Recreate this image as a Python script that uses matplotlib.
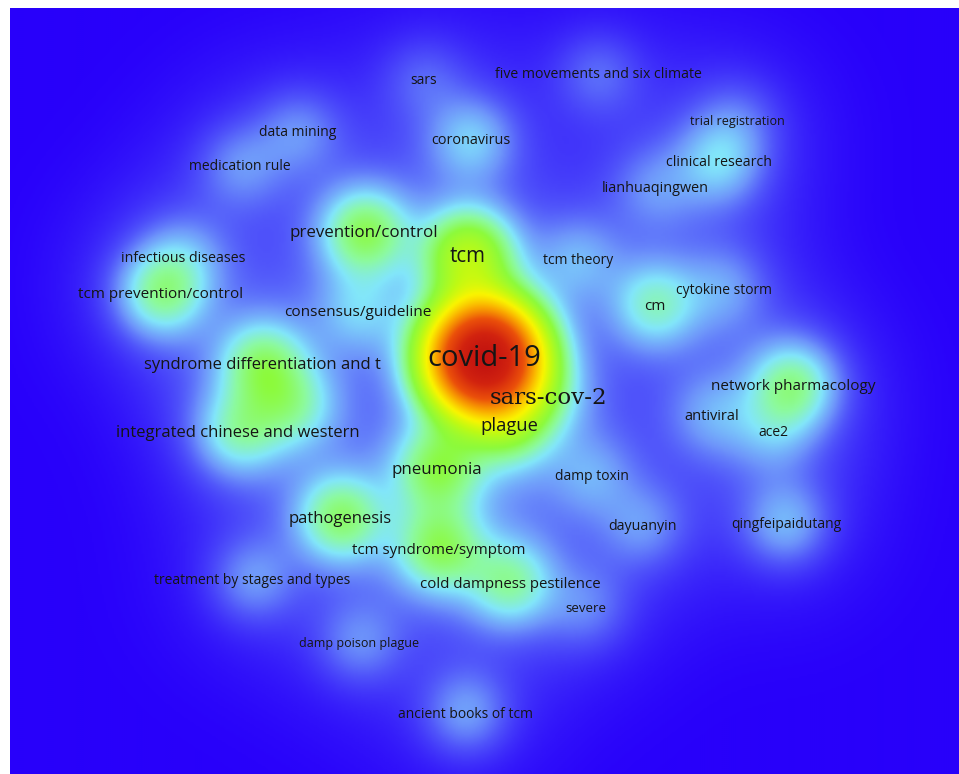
import numpy as np
import matplotlib
matplotlib.use("Agg")
import matplotlib.pyplot as plt
from matplotlib.colors import LinearSegmentedColormap

# keyword map (VOSviewer style density view), coordinates in map units
labels = ["sars", "five movements and six climate", "data mining", "coronavirus",
          "trial registration", "clinical research", "medication rule", "lianhuaqingwen",
          "prevention/control", "tcm", "tcm theory", "infectious diseases",
          "tcm prevention/control", "cytokine storm", "cm", "consensus/guideline",
          "covid-19", "syndrome differentiation and t", "sars-cov-2", "network pharmacology",
          "antiviral", "ace2", "plague", "integrated chinese and western",
          "pneumonia", "damp toxin", "pathogenesis", "dayuanyin",
          "qingfeipaidutang", "tcm syndrome/symptom", "treatment by stages and types",
          "cold dampness pestilence", "severe", "damp poison plague", "ancient books of tcm"]
xs = [424, 598, 298, 471, 737, 719, 240, 655, 364, 468, 578, 183, 161, 724, 655, 358,
      484, 262, 549, 793, 712, 773, 509, 238, 437, 592, 340, 643, 786, 439, 252, 510,
      586, 359, 466]
ys = [78, 73, 131, 139, 119, 161, 165, 187, 231, 254, 259, 256, 292, 288, 304, 310,
      357, 363, 396, 384, 414, 431, 424, 431, 468, 475, 517, 525, 523, 548, 579, 582,
      607, 642, 712]
weights = [0.02, 0.025, 0.03, 0.05, 0.02, 0.05, 0.03, 0.025, 0.11, 0.17, 0.035, 0.03,
           0.09, 0.03, 0.07, 0.04, 1.0, 0.09, 0.03, 0.09, 0.03, 0.03, 0.08, 0.07,
           0.10, 0.03, 0.10, 0.03, 0.045, 0.10, 0.035, 0.08, 0.025, 0.03, 0.04]
sizes = [10, 10.2, 10, 10.4, 9, 10.2, 10, 10.4, 12.2, 14.8, 10, 10.2, 11, 10, 11, 11.1,
         21, 12, 16.5, 11, 10.5, 10, 13.2, 12, 12.2, 10, 12, 10.3, 10, 10.9, 10, 10.8,
         9.5, 9, 10]

# items whose labels are hidden by overlap
hid_x = [293]
hid_y = [405]
hid_w = [0.06]

cmap = LinearSegmentedColormap.from_list("vos", [
    (0.000, (40/255, 0, 250/255)),
    (0.030, (80/255, 85/255, 250/255)),
    (0.050, (110/255, 150/255, 250/255)),
    (0.080, (130/255, 230/255, 250/255)),
    (0.110, (140/255, 250/255, 160/255)),
    (0.150, (140/255, 250/255, 60/255)),
    (0.220, (190/255, 250/255, 20/255)),
    (0.300, (250/255, 245/255, 0)),
    (0.420, (250/255, 170/255, 0)),
    (0.580, (235/255, 80/255, 10/255)),
    (0.800, (210/255, 35/255, 15/255)),
    (1.000, (195/255, 20/255, 15/255)),
], N=2048)

gx, gy = np.meshgrid(np.arange(10, 959, 2.0), np.arange(8, 774, 2.0))
dens = np.zeros_like(gx)
for x, y, w in zip(xs + hid_x, ys + hid_y, weights + hid_w):
    r2 = (gx - x) ** 2 + (gy - y) ** 2
    s = 29 + 7 * w
    dens += w * np.exp(-r2 / (2 * s ** 2))
    dens += 0.055 * np.sqrt(min(w, 0.15)) * np.exp(-r2 / (2 * 68.0 ** 2))
dens = dens / dens.max()

fig = plt.figure(figsize=(9.59, 7.74), dpi=100)
ax = fig.add_axes([10/959, 0, 949/959, 766/774])
ax.imshow(dens, cmap=cmap, vmin=0, vmax=1, extent=[10, 959, 774, 8],
          interpolation="bilinear", aspect="auto")
for lab, x, y, s in zip(labels, xs, ys, sizes):
    fam = "DejaVu Serif" if lab == "sars-cov-2" else "Open Sans"
    ax.text(x, y + 2, lab, fontsize=s, family=fam, color="#151515",
            ha="center", va="center")
ax.set_xlim(10, 959)
ax.set_ylim(774, 8)
ax.axis("off")
fig.savefig("out.png", dpi=100)
